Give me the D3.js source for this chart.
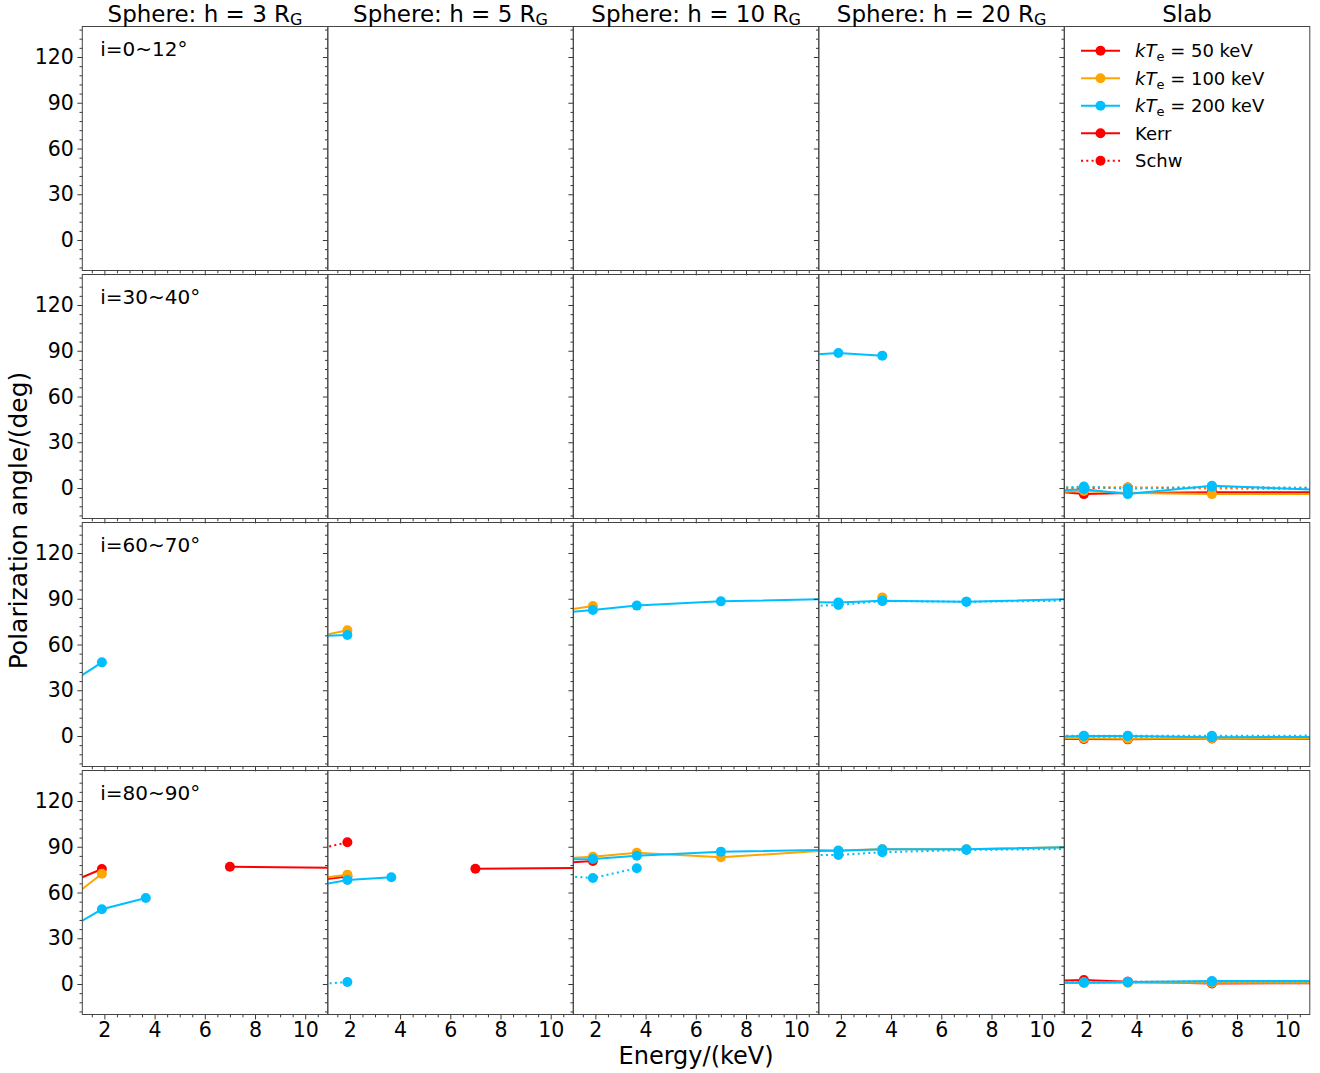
<!DOCTYPE html>
<html>
<head>
<meta charset="utf-8">
<script src="https://cdn.jsdelivr.net/npm/d3@7"></script>
<style>
  body { margin: 0; background: #fff; }
  text { font-family: "DejaVu Sans", sans-serif; fill: #000; }
</style>
</head>
<body>
<div id="chart"></div>
<script>
// Energy bins (keV); first and last bins fall outside the visible range
var energies = [0.35, 1.9, 3.65, 7.0, 14.8];

var heights = ["3", "5", "10", "20"];        // sphere heights, last column is the slab
var incl = ["i=0~12°", "i=30~40°", "i=60~70°", "i=80~90°"];
var yTicks = [0, 30, 60, 90, 120];
var xTicks = [2, 4, 6, 8, 10];

// Polarization angle (deg), [row][column] -> values at energies (null = no point)
var kerr50 = [
  [null, null, null, null, null],
  [null, null, null, null, [-1.6, -4, -3.2, -2.8, -2.8]],
  [null, null, null, null, [-2, -2, -2.2, -1.6, -2]],
  [[64.6, 75.4, null, 76.9, 75.7], [67.3, 70.5, null, 75.6, 76.6], [78.9, 80.7, null, null, null], null, [2, 2.6, 1.5, 0.4, 0.6]]
];
var kerr100 = [
  [null, null, null, null, null],
  [null, null, null, null, [-3, -2, -3.3, -4, -3.8]],
  [null, [64.1, 69.3, null, null, null], [81.4, 85.2, null, null, null], [null, null, 90.9, null, null], [-1.5, -1.5, -1.8, -1.5, -1.3]],
  [[52.3, 72.3, null, null, null], [68.3, 71.7, null, null, null], [82.1, 83.5, 86.1, 83.1, 91.3], [88.2, 87.6, 88.3, 88.3, 90.9], [0.8, 0.9, 0.9, 0.9, 0.9]]
];
var kerr200 = [
  [null, null, null, null, null],
  [null, null, null, [86.9, 88.5, 86.8, null, null], [-2.2, -0.8, -4, 1.5, -3.3]],
  [[31.7, 48.3, null, null, null], [65.4, 66.2, null, null, null], [80.4, 82.6, 85.5, 88.3, 90.9], [87.8, 87.6, 88.7, 88.1, 91.1], [-0.5, 0, 0, -0.8, -0.5]],
  [[34, 49, 56.4, null, null], [63.4, 68.2, 70, null, null], [81.6, 82, 84.1, 86.8, 89], [87.0, 87.4, 88.3, 88.3, 90.9], [0.8, 0.9, 1.3, 2, 2]]
];
var schw50 = [
  [null, null, null, null, null],
  [null, null, null, null, [-0.3, 0, 0.3, -0.2, -0.5]],
  [null, null, null, null, [-1, -1, -1, -1, -1]],
  [null, [87.1, 92.9, null, null, null], null, null, [1.4, 1.4, 1.4, 1.4, 1.4]]
];
var schw100 = [
  [null, null, null, null, null],
  [null, null, null, null, [0, 0.5, 0.4, 0.2, 0]],
  [null, null, null, null, [-0.5, -0.5, -0.5, -0.5, -0.5]],
  [null, null, null, null, [1.2, 1.2, 1.2, 1.2, 1.2]]
];
var schw200 = [
  [null, null, null, null, null],
  [null, null, null, null, [-0.4, 1, -0.5, 0.8, -0.6]],
  [null, null, null, [85.1, 85.9, 88.5, 88.0, 89.4], [0.3, 0.2, 0.2, 0.2, 0.3]],
  [null, [-0.5, 1.3, null, null, null], [71.3, 69.5, 75.9, null, null], [84.6, 84.6, 86.4, 87.9, 89.1], [1, 1, 1.2, 1.5, 1.6]]
];

var red = "#ff0000", orange = "#ffa500", blue = "#00bfff";
var series = [
  {data: kerr50, color: red, dash: null},
  {data: schw50, color: red, dash: "2,3.3"},
  {data: kerr100, color: orange, dash: null},
  {data: schw100, color: orange, dash: "2,3.3"},
  {data: kerr200, color: blue, dash: null},
  {data: schw200, color: blue, dash: "2,3.3"}
];

// Layout
var svgWidth = 1320, svgHeight = 1073;
var margin = {left: 82.3, top: 26.5};
var panelW = 245.5, panelH = 244, rowGap = 4;

var svg = d3.select("#chart").append("svg")
  .attr("width", svgWidth)
  .attr("height", svgHeight);

svg.append("defs").append("clipPath")
  .attr("id", "clip")
  .append("rect")
  .attr("width", panelW)
  .attr("height", panelH);

var x = d3.scaleLinear().domain([1.12, 10.9]).range([0, panelW]);
var y = d3.scaleLinear().domain([-20, 140]).range([panelH, 0]);

var minorX = d3.range(1.5, 10.9, 0.5).filter(function (v) { return v % 2 !== 0; });
var minorY = d3.range(-18, 140, 6).filter(function (v) { return v % 30 !== 0; });

var line = d3.line()
  .defined(function (d) { return d.v !== null; })
  .x(function (d) { return x(d.e); })
  .y(function (d) { return y(d.v); });

for (var r = 0; r < 4; r++) {
  for (var c = 0; c < 5; c++) {
    var g = svg.append("g")
      .attr("transform", "translate(" + (margin.left + c * panelW) + "," + (margin.top + r * (panelH + rowGap)) + ")");

    // y axis ticks (major + minor)
    g.append("g")
      .call(d3.axisLeft(y).tickValues(yTicks).tickSize(4.9).tickPadding(3.5)
        .tickFormat(c === 0 ? d3.format("d") : ""));
    g.append("g").call(d3.axisLeft(y).tickValues(minorY).tickSize(2.8).tickFormat(""));

    // x axis ticks (major + minor)
    g.append("g")
      .attr("transform", "translate(0," + panelH + ")")
      .call(d3.axisBottom(x).tickValues(xTicks).tickSize(4.9).tickPadding(3)
        .tickFormat(r === 3 ? d3.format("d") : ""));
    g.append("g")
      .attr("transform", "translate(0," + panelH + ")")
      .call(d3.axisBottom(x).tickValues(minorX).tickSize(2.8).tickFormat(""));

    g.selectAll(".domain").remove();
    g.selectAll(".tick line").attr("stroke", "#222").attr("stroke-width", 0.9);
    g.selectAll(".tick text").attr("fill", "#000").style("font-size", "20.5px").style("font-family", "DejaVu Sans");

    // data
    var plot = g.append("g").attr("clip-path", "url(#clip)");
    series.forEach(function (s) {
      var vals = s.data[r][c];
      if (!vals) return;
      var pts = vals.map(function (v, i) { return {e: energies[i], v: v}; });
      plot.append("path")
        .datum(pts)
        .attr("d", line)
        .attr("fill", "none")
        .attr("stroke", s.color)
        .attr("stroke-width", 2)
        .attr("stroke-dasharray", s.dash);
      plot.selectAll(null)
        .data(pts.filter(function (d) { return d.v !== null; }))
        .enter()
        .append("circle")
        .attr("cx", function (d) { return x(d.e); })
        .attr("cy", function (d) { return y(d.v); })
        .attr("r", 5)
        .attr("fill", s.color);
    });

    // frame
    g.append("rect")
      .attr("width", panelW)
      .attr("height", panelH)
      .attr("fill", "none")
      .attr("stroke", "#444")
      .attr("stroke-width", 1);

    // inclination label
    if (c === 0) {
      g.append("text")
        .attr("x", 18)
        .attr("y", 29.5)
        .style("font-size", "20px")
        .text(incl[r]);
    }
  }
}

// Column titles
for (var k = 0; k < 5; k++) {
  var t = svg.append("text")
    .attr("x", margin.left + k * panelW + panelW / 2)
    .attr("y", 21.5)
    .attr("text-anchor", "middle")
    .style("font-size", "23px");
  if (k < 4) {
    t.append("tspan").text("Sphere: h = " + heights[k] + " R");
    t.append("tspan").attr("dy", 3.5).style("font-size", "16px").text("G");
  } else {
    t.text("Slab");
  }
}

// Legend (top right panel)
var legendItems = [
  {t: "50", color: red, dash: null},
  {t: "100", color: orange, dash: null},
  {t: "200", color: blue, dash: null},
  {t: "Kerr", color: red, dash: null},
  {t: "Schw", color: red, dash: "2,3.3"}
];
var legend = svg.append("g").attr("transform", "translate(1081,50.7)");
legendItems.forEach(function (d, i) {
  var row = legend.append("g").attr("transform", "translate(0," + (i * 27.5) + ")");
  row.append("line")
    .attr("x1", 0).attr("x2", 39)
    .attr("stroke", d.color)
    .attr("stroke-width", 2)
    .attr("stroke-dasharray", d.dash);
  row.append("circle").attr("cx", 19.5).attr("r", 5).attr("fill", d.color);
  var txt = row.append("text").attr("x", 54).attr("y", 6.5).style("font-size", "18px");
  if (i < 3) {
    txt.append("tspan").style("font-style", "italic").text("kT");
    txt.append("tspan").attr("dy", 4).style("font-size", "13px").text("e");
    txt.append("tspan").attr("dy", -4).text(" = " + d.t + " keV");
  } else {
    txt.text(d.t);
  }
});

// Axis labels
svg.append("text")
  .attr("transform", "translate(27," + (margin.top + (4 * panelH + 3 * rowGap) / 2) + ") rotate(-90)")
  .attr("text-anchor", "middle")
  .style("font-size", "25px")
  .text("Polarization angle/(deg)");

svg.append("text")
  .attr("x", margin.left + 2.5 * panelW)
  .attr("y", 1064)
  .attr("text-anchor", "middle")
  .style("font-size", "24px")
  .text("Energy/(keV)");
</script>
</body>
</html>
